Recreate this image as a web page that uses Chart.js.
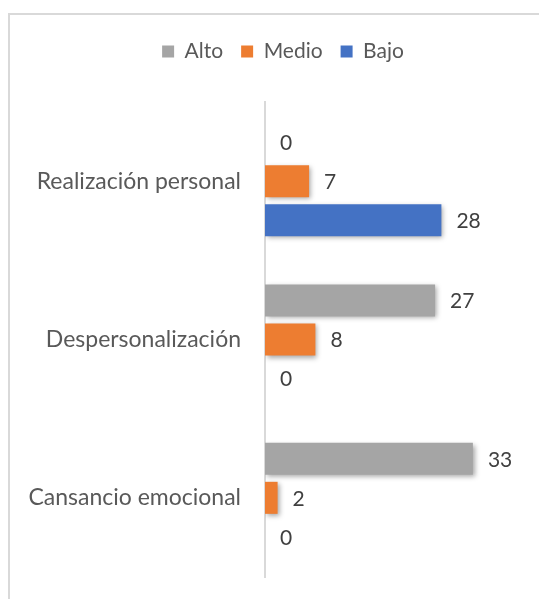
<!DOCTYPE html>
<html>
<head>
<meta charset="utf-8">
<script src="https://cdn.jsdelivr.net/npm/chart.js@4/dist/chart.umd.min.js"></script>
<style>
  html, body { margin: 0; padding: 0; background: #fff; }
  #wrap { position: relative; width: 539px; height: 599px; overflow: hidden; }
  #frame {
    position: absolute; left: 8px; top: 13px; right: -10px; bottom: -10px;
    border-left: 2px solid #d9d9d9; border-top: 2px solid #d9d9d9;
  }
  canvas { position: absolute; left: 0; top: 0; }
</style>
</head>
<body>
<div id="wrap">
  <div id="frame"></div>
  <canvas id="chart" width="539" height="599"></canvas>
</div>
<script>
const categories = ["Realización personal", "Despersonalización", "Cansancio emocional"];
const alto = [0, 27, 33];
const medio = [7, 8, 2];
const bajo = [28, 0, 0];

const FONT = "Lato";

// shadow under the bars + value labels, and a taller legend box
const barExtras = {
    id: "barExtras",
    beforeLayout(chart) {
        const legend = chart.legend;
        if (legend && !legend._wrapped) {
            const fit = legend.fit;
            legend.fit = function () {
                fit.call(this);
                this.height = 79;
            };
            legend._wrapped = true;
        }
    },
    afterLayout(chart) {
        // legend sits a bit right of the canvas centre
        if (chart.legend) chart.legend.left = 49;
    },
    beforeDatasetsDraw(chart) {
        const ctx = chart.ctx;
        ctx.save();
        ctx.shadowColor = "rgba(0,0,0,0.35)";
        ctx.shadowBlur = 5;
        ctx.shadowOffsetX = 2;
        ctx.shadowOffsetY = 2;
    },
    afterDatasetsDraw(chart) {
        const ctx = chart.ctx;
        ctx.restore();
        ctx.save();
        ctx.fillStyle = "#404040";
        ctx.font = "21px " + FONT;
        ctx.textAlign = "left";
        ctx.textBaseline = "middle";
        chart.data.datasets.forEach((ds, i) => {
            chart.getDatasetMeta(i).data.forEach((bar, j) => {
                ctx.fillText(ds.data[j], bar.x + 15, bar.y + 1);
            });
        });
        ctx.restore();
    }
};

new Chart(document.getElementById("chart"), {
    type: "bar",
    data: {
        labels: categories,
        datasets: [
            { label: "Alto", data: alto, backgroundColor: "#a5a5a5" },
            { label: "Medio", data: medio, backgroundColor: "#ed7d31" },
            { label: "Bajo", data: bajo, backgroundColor: "#4472c4" }
        ]
    },
    options: {
        indexAxis: "y",
        responsive: false,
        animation: false,
        layout: { padding: { top: 23, right: 22, bottom: 22, left: 0 } },
        datasets: {
            bar: { categoryPercentage: 0.74, barPercentage: 0.82 }
        },
        plugins: {
            legend: {
                position: "top",
                labels: {
                    font: { family: FONT, size: 21 },
                    color: "#595959",
                    boxWidth: 12,
                    boxHeight: 12,
                    padding: 18
                }
            },
            tooltip: { enabled: false }
        },
        scales: {
            x: { display: false, min: 0, max: 40 },
            y: {
                grid: { display: false, drawTicks: false },
                border: { display: true, color: "#d9d9d9", width: 2 },
                ticks: {
                    font: { family: FONT, size: 23 },
                    color: "#595959",
                    padding: 24
                },
                afterFit(scale) {
                    scale.width = 265;
                    scale.paddingTop = 0;
                    scale.paddingBottom = 0;
                }
            }
        }
    },
    plugins: [barExtras]
});
</script>
</body>
</html>
